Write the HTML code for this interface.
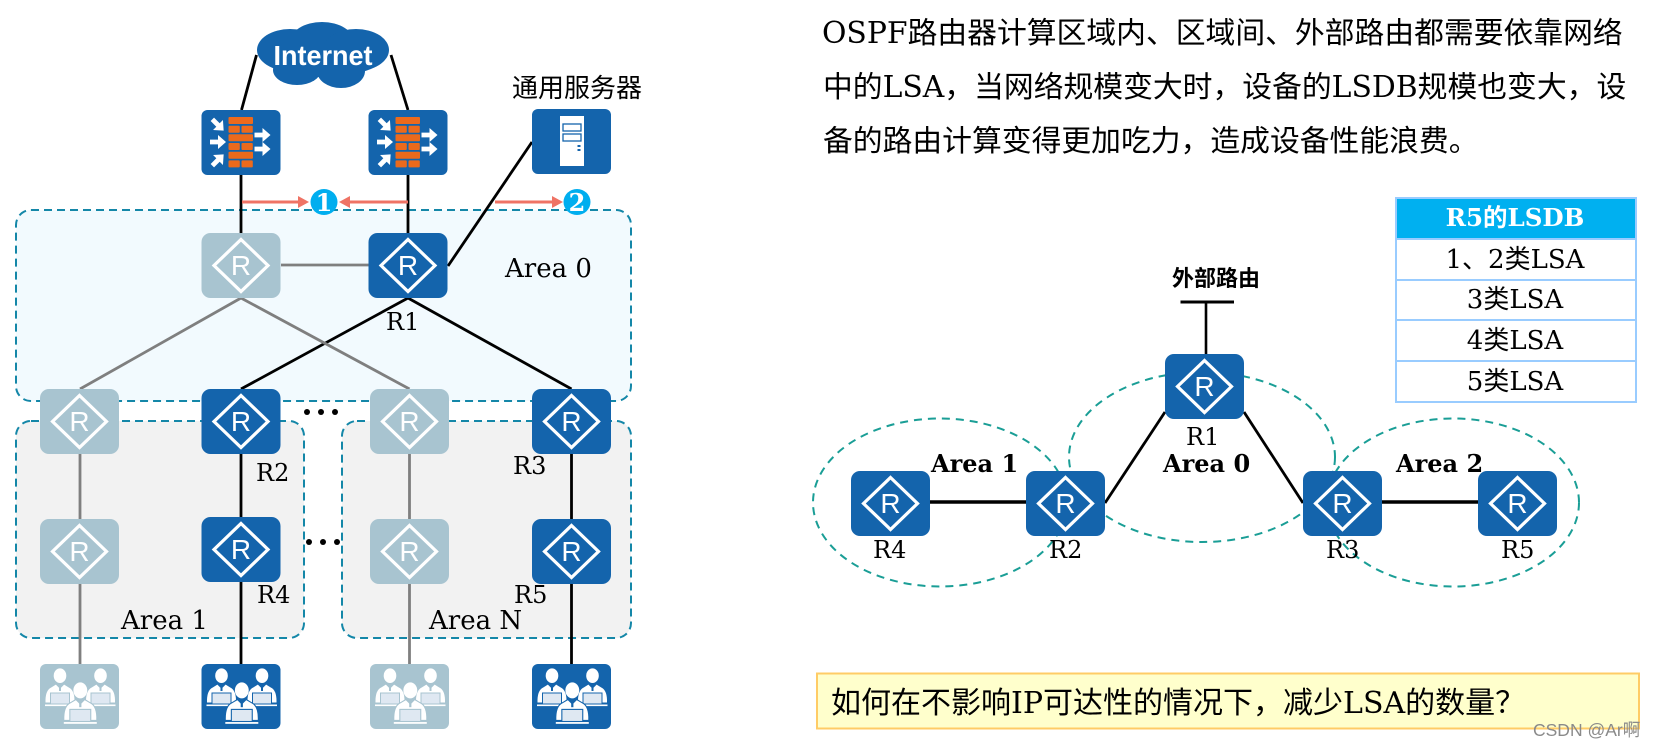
<!DOCTYPE html>
<html><head><meta charset="utf-8"><style>
html,body{margin:0;padding:0;background:#fff}
svg{display:block}
text{font-family:"DejaVu Serif","WenQuanYi Zen Hei","Noto Sans CJK SC",serif;fill:#000}
.rl{font-family:"Liberation Sans",sans-serif;font-size:28px;fill:#fff;text-anchor:middle}
.a{font-size:26px}
.l{font-size:24px}
.t{font-size:26px;text-anchor:middle}
.b{font-size:29.8px}
</style></head><body>
<svg width="1656" height="748" viewBox="0 0 1656 748" xmlns="http://www.w3.org/2000/svg">
<defs>
<g id="rt"><rect width="79" height="65" rx="9" fill="currentColor"/><path d="M39.5 6.5L66.5 32.5L39.5 58.5L12.5 32.5Z" fill="none" stroke="#fff" stroke-width="3.2"/></g>
<path id="ar" d="M-8-2.4H0V-7L8 0L0 7V2.4H-8Z" fill="#fff"/>
<g id="fw"><rect width="79" height="65" rx="6" fill="#1464ac"/>
<g fill="#ec6a1c"><rect x="27" y="7" width="24.5" height="7" rx="1"/><rect x="27" y="15.7" width="11.3" height="7" rx="1"/><rect x="40" y="15.7" width="11.3" height="7" rx="1"/><rect x="27" y="24.3" width="24.5" height="7" rx="1"/><rect x="27" y="33" width="11.3" height="7" rx="1"/><rect x="40" y="33" width="11.3" height="7" rx="1"/><rect x="27" y="41.7" width="24.5" height="7" rx="1"/><rect x="27" y="50.4" width="11.3" height="7" rx="1"/><rect x="40" y="50.4" width="11.3" height="7" rx="1"/></g>
<use href="#ar" transform="translate(16.5 15) rotate(45)"/><use href="#ar" transform="translate(16.5 32)"/><use href="#ar" transform="translate(16.5 50) rotate(-45)"/><use href="#ar" transform="translate(61 25)"/><use href="#ar" transform="translate(61 39)"/></g>
<g id="pp"><path d="M5 39Q4.5 26 11 23L16 20L20 24L24 20L29 23Q35.5 26 35 39Z" fill="#fff" stroke="currentColor" stroke-width="1"/><ellipse cx="20" cy="11.7" rx="6.3" ry="7.3" fill="#fff"/><path d="M19 22h2v5h-2z" fill="currentColor"/><rect x="10.5" y="29" width="19" height="11" fill="#dfe8f2" stroke="currentColor" stroke-width="1"/><rect x="5" y="40.5" width="30" height="1.6" fill="#fff"/></g>
<g id="us"><rect width="79" height="65" rx="6" fill="currentColor"/>
<use href="#pp"/><use href="#pp" x="40.5"/><use href="#pp" transform="translate(18.3 13.5) scale(1.1)"/></g>
</defs>

<!-- areas -->
<rect x="16" y="210" width="615" height="191" rx="15" fill="#f2fafe" stroke="#1487a8" stroke-width="2" stroke-dasharray="8 5"/>
<rect x="16" y="421" width="288" height="217" rx="15" fill="#f2f2f2" stroke="#1487a8" stroke-width="2" stroke-dasharray="8 5"/>
<rect x="342" y="421" width="289" height="217" rx="15" fill="#f2f2f2" stroke="#1487a8" stroke-width="2" stroke-dasharray="8 5"/>

<!-- lines left -->
<g fill="none" stroke-width="2.8">
<g stroke="#000">
<path d="M256.5 55L241.5 110M391 55L408 110M241 175V233M408 175V233M532 142L448 266"/>
<path d="M408 298L241 389M408 298L571.5 389M241 453V517M241 581V664M571.5 453V519M571.5 583V664"/>
</g>
<g stroke="#7f7f7f">
<path d="M281 265H369M241 298L80 389M241 298L409.5 389M80 453V519M80 583V664M409.5 453V519M409.5 583V664"/>
</g></g>

<!-- cloud -->
<g fill="#1464ac">
<ellipse cx="323" cy="55" rx="62" ry="22"/><ellipse cx="322" cy="42" rx="32" ry="20"/><ellipse cx="290" cy="50" rx="33" ry="21"/><ellipse cx="356" cy="50" rx="33" ry="21"/><ellipse cx="297" cy="70" rx="24" ry="15"/><ellipse cx="341" cy="71" rx="24" ry="17"/>
</g>
<text x="323" y="65" text-anchor="middle" textLength="99" lengthAdjust="spacingAndGlyphs" style="font-family:'Liberation Sans',sans-serif;font-weight:700;font-size:27.5px;fill:#fff">Internet</text>

<use href="#fw" x="201.5" y="110"/>
<use href="#fw" x="368.5" y="110"/>
<rect x="532" y="109" width="79" height="65" rx="6" fill="#1464ac"/>
<rect x="560" y="116" width="24" height="50" fill="#fff"/>
<g fill="none" stroke="#1464ac" stroke-width="1.3"><rect x="563" y="124" width="18" height="7"/><rect x="563" y="134" width="18" height="7"/></g>
<g fill="#1464ac"><rect x="577.5" y="145" width="3" height="2"/><rect x="577.5" y="149" width="3" height="2"/></g>
<text x="512" y="97" style="font-size:26px">通用服务器</text>

<!-- red arrows -->
<g fill="#ef7365">
<rect x="242" y="200.5" width="57" height="3"/><path d="M298 196L309 202L298 208Z"/>
<rect x="349" y="200.5" width="59" height="3"/><path d="M350 196L339 202L350 208Z"/>
<rect x="495" y="200.5" width="58" height="3"/><path d="M552 196L563 202L552 208Z"/>
</g>
<ellipse cx="324" cy="202" rx="13.5" ry="13" fill="#00aeef"/>
<ellipse cx="577" cy="202" rx="13.5" ry="13" fill="#00aeef"/>
<text x="324" y="211" text-anchor="middle" style="font-size:24px;font-weight:700;fill:#fff">1</text>
<text x="577" y="211" text-anchor="middle" style="font-size:24px;font-weight:700;fill:#fff">2</text>

<!-- left routers -->
<g color="#a8c4d0">
<use href="#rt" x="201.5" y="233"/><use href="#rt" x="40" y="389"/><use href="#rt" x="370" y="389"/><use href="#rt" x="40" y="519"/><use href="#rt" x="370" y="519"/>
<use href="#us" x="40" y="664"/><use href="#us" x="370" y="664"/>
</g>
<g color="#1464ac">
<use href="#rt" x="368.5" y="233"/><use href="#rt" x="201.5" y="389"/><use href="#rt" x="532" y="389"/><use href="#rt" x="201.5" y="517"/><use href="#rt" x="532" y="519"/>
<use href="#us" x="201.5" y="664"/><use href="#us" x="532" y="664"/>
</g>
<text class="rl" x="241" y="275">R</text><text class="rl" x="408" y="275">R</text>
<text class="rl" x="79.5" y="431">R</text><text class="rl" x="241" y="431">R</text><text class="rl" x="409.5" y="431">R</text><text class="rl" x="571.5" y="431">R</text>
<text class="rl" x="79.5" y="561">R</text><text class="rl" x="241" y="559">R</text><text class="rl" x="409.5" y="561">R</text><text class="rl" x="571.5" y="561">R</text>
<text class="a" x="505" y="277">Area 0</text>
<text class="a" x="121" y="629">Area 1</text>
<text class="a" x="429" y="629">Area N</text>
<text class="l" x="386" y="330">R1</text>
<text class="l" x="256" y="481">R2</text>
<text class="l" x="513" y="474">R3</text>
<text class="l" x="257" y="603">R4</text>
<text class="l" x="514" y="603">R5</text>
<g fill="#000"><circle cx="307" cy="412" r="3"/><circle cx="321" cy="412" r="3"/><circle cx="335" cy="412" r="3"/><circle cx="309" cy="542" r="3"/><circle cx="323" cy="542" r="3"/><circle cx="337" cy="542" r="3"/></g>

<!-- paragraph -->
<text class="b" x="822" y="43">OSPF路由器计算区域内、区域间、外部路由都需要依靠网络</text>
<text class="b" x="823" y="97">中的LSA，当网络规模变大时，设备的LSDB规模也变大，设</text>
<text class="b" x="823" y="151">备的路由计算变得更加吃力，造成设备性能浪费。</text>

<!-- right diagram -->
<g fill="none" stroke="#1a9e96" stroke-width="2" stroke-dasharray="8 6">
<ellipse cx="1202" cy="457" rx="133" ry="85"/>
<ellipse cx="940" cy="502.5" rx="127" ry="84"/>
<ellipse cx="1453" cy="502.5" rx="126" ry="84"/>
</g>
<g fill="none" stroke="#000">
<path d="M1206 354V302" stroke-width="2.6"/><path d="M1180.5 302H1234" stroke-width="3"/>
<path d="M1165 412L1105 503M1244 412L1303 503" stroke-width="2.8"/>
<path d="M930 502H1026M1382 502H1478" stroke-width="3.6"/>
</g>
<g color="#1464ac">
<use href="#rt" x="1165" y="354"/><use href="#rt" x="851" y="471"/><use href="#rt" x="1026" y="471"/><use href="#rt" x="1303" y="471"/><use href="#rt" x="1478" y="471"/>
</g>
<text class="rl" x="1204.5" y="396">R</text><text class="rl" x="890.5" y="513">R</text><text class="rl" x="1065.5" y="513">R</text><text class="rl" x="1342.5" y="513">R</text><text class="rl" x="1517.5" y="513">R</text>
<text x="1172" y="286" style="font-size:22px;font-weight:700">外部路由</text>
<g style="font-size:24px;font-weight:700">
<text x="931" y="472">Area 1</text><text x="1163" y="472">Area 0</text><text x="1396" y="472">Area 2</text>
</g>
<text class="l" x="1186" y="445">R1</text>
<text class="l" x="873" y="558">R4</text>
<text class="l" x="1049" y="558">R2</text>
<text class="l" x="1326" y="558">R3</text>
<text class="l" x="1501" y="558">R5</text>

<!-- table -->
<rect x="1396" y="198" width="240" height="41" fill="#00b0f0"/>
<rect x="1396" y="198" width="240" height="204" fill="none" stroke="#99ccff" stroke-width="2"/>
<path d="M1396 239H1636M1396 280H1636M1396 320H1636M1396 361H1636" stroke="#99ccff" stroke-width="2" fill="none"/>
<text class="t" x="1515" y="226" style="fill:#fff;font-size:24.5px;font-weight:700">R5的LSDB</text>
<text class="t" x="1515" y="268">1、2类LSA</text>
<text class="t" x="1515" y="308">3类LSA</text>
<text class="t" x="1515" y="349">4类LSA</text>
<text class="t" x="1515" y="390">5类LSA</text>

<!-- yellow box -->
<rect x="817" y="673.5" width="822" height="55" fill="#ffffcc" stroke="#ffcc66" stroke-width="2"/>
<text x="831" y="713" style="font-size:30px">如何在不影响IP可达性的情况下，减少LSA的数量？</text>
<text x="1533" y="736" style="font-family:'Liberation Sans','WenQuanYi Zen Hei',sans-serif;font-size:17.5px;fill:#8a8a8a">CSDN @Ar啊</text>
</svg>
</body></html>
